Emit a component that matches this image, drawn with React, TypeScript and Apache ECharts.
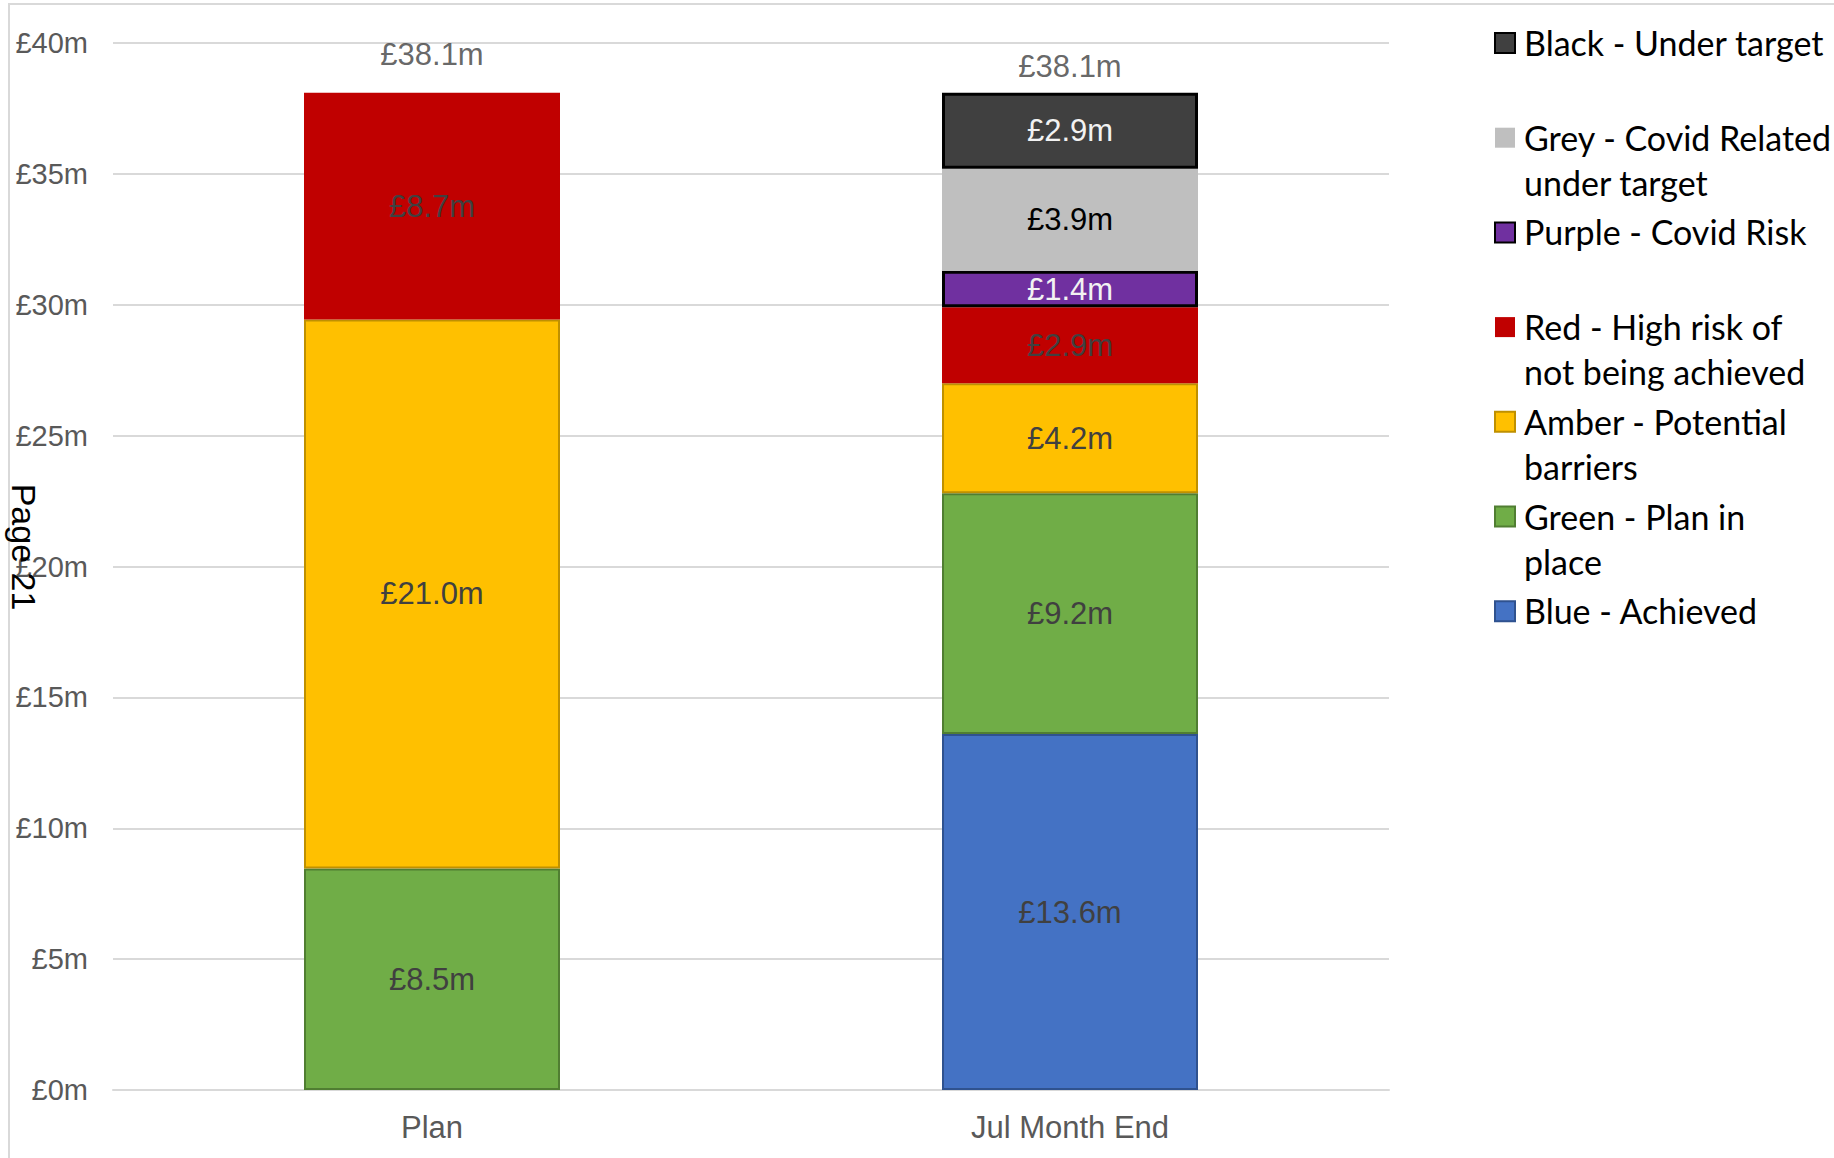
import React, { useEffect, useRef } from "react";
import * as echarts from "echarts";

const categories = ["Plan", "Jul Month End"];
const blueValues = [null, 13.6];
const greenValues = [8.46, 9.2];
const amberValues = [20.98, 4.2];
const redValues = [8.66, 2.9];
const purpleValues = [null, 1.4];
const greyValues = [null, 3.9];
const blackValues = [null, 2.9];
const totalValues = [38.1, 38.1];
const totalLabelDistance = [22, 10];

const seriesNames = [
  "Blue - Achieved",
  "Green - Plan in place",
  "Amber - Potential barriers",
  "Red - High risk of not being achieved",
  "Purple - Covid Risk",
  "Grey - Covid Related under target",
  "Black - Under target",
];
const seriesColors = ["#4472C4", "#70AD47", "#FFC000", "#C00000", "#7030A0", "#BFBFBF", "#404040"];
const seriesBorders = ["#2F528F", "#507E32", "#BF9000", "#C00000", "#000000", "#BFBFBF", "#000000"];
const seriesBorderWidths = [2, 2, 2, 0, 3, 0, 3];
const labelColors = ["#404040", "#404040", "#404040", "#404040", "#F2F2F2", "#000000", "#F2F2F2"];
const seriesValues = [blueValues, greenValues, amberValues, redValues, purpleValues, greyValues, blackValues];

const legendOrder = [6, 5, 4, 3, 2, 1, 0];
const legendLabels = [
  "Black - Under target",
  "Grey - Covid Related\nunder target",
  "Purple - Covid Risk",
  "Red - High risk of\nnot being achieved",
  "Amber - Potential\nbarriers",
  "Green - Plan in\nplace",
  "Blue - Achieved",
];

const FONT = "'Liberation Sans', Arial, sans-serif";
const LEGEND_FONT = "Lato, 'Open Sans', sans-serif";

export default function App() {
  const ref = useRef<HTMLDivElement>(null);
  useEffect(() => {
    if (!ref.current) return;
    const chart = echarts.init(ref.current, null, { renderer: "svg" });
    const fmt = (v: number) => "£" + v.toFixed(1) + "m";

    const barSeries: any[] = seriesValues.map((vals, i) => ({
      type: "bar",
      name: seriesNames[i],
      stack: "total",
      barWidth: 256,
      data: vals,
      itemStyle: {
        color: seriesColors[i],
        borderColor: seriesBorders[i],
        borderWidth: seriesBorderWidths[i],
      },
      label: {
        show: true,
        position: "inside",
        color: labelColors[i],
        fontSize: 31,
        fontFamily: FONT,
        formatter: (p: any) => (p.value == null ? "" : fmt(p.value)),
      },
    }));

    const totalSeries = {
      type: "scatter",
      name: "Total",
      symbolSize: 1,
      itemStyle: { color: "rgba(0,0,0,0)" },
      data: totalValues.map((v, i) => ({
        value: v,
        label: { distance: totalLabelDistance[i] },
      })),
      label: {
        show: true,
        position: "top",
        color: "#404040",
        fontSize: 31,
        fontFamily: FONT,
        formatter: (p: any) => fmt(p.value),
      },
      z: 10,
    };

    const legendGraphics: any[] = [];
    legendOrder.forEach((si, k) => {
      const cy = 43 + k * 94.7;
      legendGraphics.push({
        type: "rect",
        shape: { x: 1495, y: cy - 10, width: 20, height: 20 },
        style: {
          fill: seriesColors[si],
          stroke: seriesBorderWidths[si] > 0 ? seriesBorders[si] : seriesColors[si],
          lineWidth: seriesBorderWidths[si] > 0 ? 2 : 0,
        },
      });
      legendGraphics.push({
        type: "text",
        x: 1524,
        y: cy - 23,
        style: {
          text: legendLabels[k],
          font: `34px ${LEGEND_FONT}`,
          fill: "#000000",
          lineHeight: 45,
          textVerticalAlign: "top",
          verticalAlign: "top",
        },
      });
    });

    chart.setOption({
      animation: false,
      backgroundColor: "#ffffff",
      grid: { left: 113, right: 1834 - 1389, top: 43, bottom: 1158 - 1090 },
      xAxis: {
        type: "category",
        data: categories,
        axisLine: { show: true, lineStyle: { color: "#D9D9D9", width: 2 } },
        axisTick: { show: false },
        axisLabel: { color: "#595959", fontSize: 31, fontFamily: FONT, margin: 22 },
      },
      yAxis: {
        type: "value",
        min: 0,
        max: 40,
        interval: 5,
        axisLine: { show: false },
        axisTick: { show: false },
        splitLine: { lineStyle: { color: "#D9D9D9", width: 2 } },
        axisLabel: {
          color: "#595959",
          fontSize: 29,
          fontFamily: FONT,
          margin: 25,
          formatter: (v: number) => "£" + v + "m",
        },
      },
      series: [...barSeries, totalSeries],
      graphic: [
        {
          type: "rect",
          shape: { x: 9, y: 4, width: 1900, height: 1300 },
          style: { fill: "none", stroke: "#D9D9D9", lineWidth: 2 },
          silent: true,
          z: -1,
        },
        ...legendGraphics,
        {
          type: "text",
          x: 24,
          y: 547,
          rotation: -Math.PI / 2,
          style: {
            text: "Page 21",
            font: `34px ${FONT}`,
            fill: "#000000",
            textAlign: "center",
            textVerticalAlign: "middle",
            align: "center",
            verticalAlign: "middle",
          },
          z: 100,
        },
      ],
    });
    return () => chart.dispose();
  }, []);
  return (
    <div
      ref={ref}
      style={{ position: "fixed", left: 0, top: 0, width: 1834, height: 1158 }}
    />
  );
}
